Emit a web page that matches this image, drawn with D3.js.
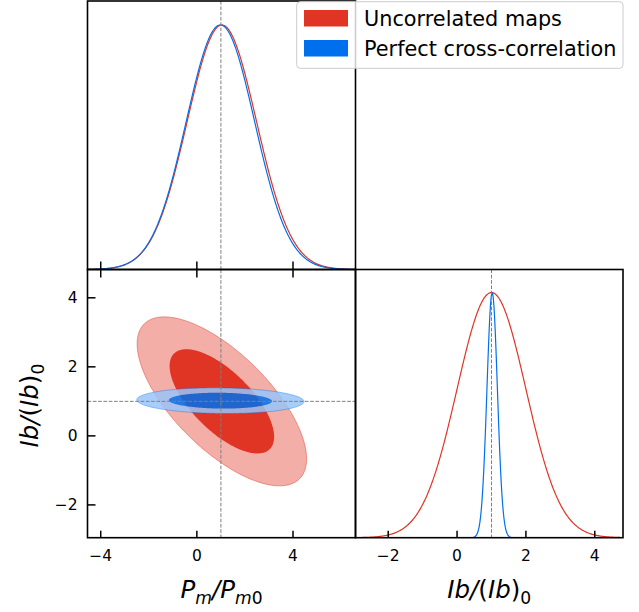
<!DOCTYPE html>
<html>
<head>
<meta charset="utf-8">
<script src="https://cdn.jsdelivr.net/npm/d3@7"></script>
<style>
  body { margin: 0; background: #fff; }
  svg text { font-family: "DejaVu Sans", sans-serif; fill: #000; }
</style>
</head>
<body>
<svg id="chart" width="639" height="612"></svg>
<script>
// ── Data ──
const seriesNames = ['Uncorrelated maps', 'Perfect cross-correlation'];
const seriesColors = ['#E03424', '#006FED'];
const seriesLight = ['#F3AEA7', '#99C5F8'];
const seriesAlpha = [1, 0.85];
const meanPm = [1.04, 0.98];
const meanIb = [1.0, 1.02];
const sigmaPm = [1.44, 1.42];
const sigmaIb = [1.0, 0.152];
const corrPmIb = [-0.68, -0.07];
const contourLevels = [0.95, 0.68];   // outer, inner
const fiducial = { pm: 1, ib: 1 };
const pmDomain = [-4.55, 6.6];
const ibDomain = [-2.95, 4.82];
const pmTicks = [-4, 0, 4];
const ibTicks = [-2, 0, 2, 4];

// ── Layout ──
const L = { x0: 87.5, x1: 355.5, x2: 623, y0: 1, y1: 269.5, y2: 537.7 };
const svg = d3.select('#chart');

const xPm = d3.scaleLinear().domain(pmDomain).range([L.x0, L.x1]);
const yIb = d3.scaleLinear().domain(ibDomain).range([L.y2, L.y1]);
const xIb = d3.scaleLinear().domain(ibDomain).range([L.x1, L.x2]);
const yTop = d3.scaleLinear().domain([0, 1.098]).range([L.y1, L.y0]);
const yRight = d3.scaleLinear().domain([0, 1.094]).range([L.y2, L.y1]);

const fmt = d => (d < 0 ? '\u2212' + Math.abs(d) : '' + d);

// clip paths
const defs = svg.append('defs');
function clip(id, x, y, w, h) {
  defs.append('clipPath').attr('id', id).append('rect')
    .attr('x', x).attr('y', y).attr('width', w).attr('height', h);
  return `url(#${id})`;
}
const clipTL = clip('c-tl', L.x0, L.y0, L.x1 - L.x0, L.y1 - L.y0);
const clipBL = clip('c-bl', L.x0, L.y1, L.x1 - L.x0, L.y2 - L.y1);
const clipBR = clip('c-br', L.x1, L.y1, L.x2 - L.x1, L.y2 - L.y1);

// ── Helpers ──
function gaussCurve(mu, sd, domain) {
  return d3.range(0, 401).map(i => {
    const x = domain[0] + (domain[1] - domain[0]) * i / 400;
    const z = (x - mu) / sd;
    return [x, Math.exp(-0.5 * z * z)];
  });
}

function ellipse(i, p) {
  const k = Math.sqrt(-2 * Math.log(1 - p));
  const r = corrPmIb[i];
  return d3.range(0, 240).map(j => {
    const t = 2 * Math.PI * j / 240;
    return [
      meanPm[i] + sigmaPm[i] * k * Math.cos(t),
      meanIb[i] + sigmaIb[i] * k * (r * Math.cos(t) + Math.sqrt(1 - r * r) * Math.sin(t))
    ];
  });
}

function mathLabel(sel, parts, size) {
  const s = 0.24 * size;
  let down = false;
  parts.forEach(p => {
    const t = sel.append('tspan').text(p.t)
      .attr('font-style', p.it ? 'italic' : 'normal');
    if (p.sub) {
      t.attr('font-size', size * 0.7);
      if (!down) { t.attr('dy', s); down = true; }
    } else {
      t.attr('font-size', size);
      if (down) { t.attr('dy', -s); down = false; }
    }
  });
}

// ── Top-left: Pm marginal ──
const gTL = svg.append('g').attr('clip-path', clipTL);
seriesNames.forEach((name, i) => {
  gTL.append('path')
    .datum(gaussCurve(meanPm[i], sigmaPm[i], pmDomain))
    .attr('d', d3.line().x(d => xPm(d[0])).y(d => yTop(d[1])))
    .attr('fill', 'none')
    .attr('stroke', seriesColors[i])
    .attr('stroke-width', 1.2);
});
gTL.append('line')
  .attr('x1', xPm(fiducial.pm)).attr('x2', xPm(fiducial.pm))
  .attr('y1', L.y0).attr('y2', L.y1)
  .attr('stroke', '#808080').attr('stroke-width', 1).attr('stroke-dasharray', '3.7,1.6');

// ── Bottom-left: 2D contours ──
const gBL = svg.append('g').attr('clip-path', clipBL);
const ellLine = d3.line().x(d => xPm(d[0])).y(d => yIb(d[1])).curve(d3.curveLinearClosed);
seriesNames.forEach((name, i) => {
  const g = gBL.append('g').attr('opacity', seriesAlpha[i]);
  g.append('path')
    .attr('d', ellLine(ellipse(i, contourLevels[0])))
    .attr('fill', seriesLight[i]);
  g.append('path')
    .attr('d', ellLine(ellipse(i, contourLevels[1])))
    .attr('fill', seriesColors[i]);
  g.append('path')
    .attr('d', ellLine(ellipse(i, contourLevels[0])))
    .attr('fill', 'none')
    .attr('stroke', seriesColors[i])
    .attr('stroke-opacity', 0.45)
    .attr('stroke-width', 1);
});
gBL.append('line')
  .attr('x1', xPm(fiducial.pm)).attr('x2', xPm(fiducial.pm))
  .attr('y1', L.y1).attr('y2', L.y2)
  .attr('stroke', '#808080').attr('stroke-width', 1).attr('stroke-dasharray', '3.7,1.6');
gBL.append('line')
  .attr('x1', L.x0).attr('x2', L.x1)
  .attr('y1', yIb(fiducial.ib)).attr('y2', yIb(fiducial.ib))
  .attr('stroke', '#808080').attr('stroke-width', 1).attr('stroke-dasharray', '3.7,1.6');

// ── Bottom-right: Ib marginal ──
const gBR = svg.append('g').attr('clip-path', clipBR);
seriesNames.forEach((name, i) => {
  gBR.append('path')
    .datum(gaussCurve(meanIb[i], sigmaIb[i], ibDomain))
    .attr('d', d3.line().x(d => xIb(d[0])).y(d => yRight(d[1])))
    .attr('fill', 'none')
    .attr('stroke', seriesColors[i])
    .attr('stroke-width', 1.2);
});
gBR.append('line')
  .attr('x1', xIb(fiducial.ib)).attr('x2', xIb(fiducial.ib))
  .attr('y1', L.y1).attr('y2', L.y2)
  .attr('stroke', '#808080').attr('stroke-width', 1).attr('stroke-dasharray', '3.7,1.6');

// ── Ticks ──
const gTicks = svg.append('g').attr('stroke', '#000').attr('stroke-width', 1.5);
pmTicks.forEach(t => {
  const x = xPm(t);
  gTicks.append('line').attr('x1', x).attr('x2', x).attr('y1', L.y2).attr('y2', L.y2 - 7);
  gTicks.append('line').attr('x1', x).attr('x2', x).attr('y1', L.y1 - 8).attr('y2', L.y1 + 8);
});
ibTicks.forEach(t => {
  const y = yIb(t);
  gTicks.append('line').attr('x1', L.x0).attr('x2', L.x0 + 8).attr('y1', y).attr('y2', y);
  const x = xIb(t);
  gTicks.append('line').attr('x1', x).attr('x2', x).attr('y1', L.y2).attr('y2', L.y2 - 7);
});

// ── Frames ──
const frames = [
  [L.x0, L.y0, L.x1 - L.x0, L.y1 - L.y0],
  [L.x0, L.y1, L.x1 - L.x0, L.y2 - L.y1],
  [L.x1, L.y1, L.x2 - L.x1, L.y2 - L.y1]
];
svg.append('g').selectAll('rect').data(frames).enter().append('rect')
  .attr('x', d => d[0]).attr('y', d => d[1]).attr('width', d => d[2]).attr('height', d => d[3])
  .attr('fill', 'none').attr('stroke', '#000').attr('stroke-width', 1.6);

// ── Tick labels ──
const tickSize = 15.5;
svg.append('g').selectAll('text').data(pmTicks).enter().append('text')
  .attr('x', d => xPm(d)).attr('y', 560.5)
  .attr('text-anchor', 'middle').attr('font-size', tickSize)
  .text(fmt);
svg.append('g').selectAll('text').data(ibTicks).enter().append('text')
  .attr('x', d => xIb(d)).attr('y', 560.5)
  .attr('text-anchor', 'middle').attr('font-size', tickSize)
  .text(fmt);
svg.append('g').selectAll('text').data(ibTicks).enter().append('text')
  .attr('x', 77.5).attr('y', d => yIb(d)).attr('dy', '0.36em')
  .attr('text-anchor', 'end').attr('font-size', tickSize)
  .text(fmt);

// ── Axis labels ──
const labSize = 24.5;
mathLabel(svg.append('text').attr('x', (L.x0 + L.x1) / 2).attr('y', 598).attr('text-anchor', 'middle'),
  [{ t: 'P', it: true }, { t: 'm', it: true, sub: true }, { t: '/P', it: true },
   { t: 'm', it: true, sub: true }, { t: '0', sub: true }], labSize);
mathLabel(svg.append('text').attr('x', (L.x1 + L.x2) / 2).attr('y', 598).attr('text-anchor', 'middle'),
  [{ t: 'Ib/', it: true }, { t: '(' }, { t: 'Ib', it: true }, { t: ')' }, { t: '0', sub: true }], labSize);
mathLabel(svg.append('text')
    .attr('transform', `translate(38,${(L.y1 + L.y2) / 2 + 2}) rotate(-90)`)
    .attr('text-anchor', 'middle'),
  [{ t: 'Ib/', it: true }, { t: '(' }, { t: 'Ib', it: true }, { t: ')' }, { t: '0', sub: true }], labSize);

// ── Legend ──
const leg = svg.append('g');
leg.append('rect')
  .attr('x', 296.7).attr('y', 1.7).attr('width', 326.3).attr('height', 66.6).attr('rx', 3.5)
  .attr('fill', '#fff').attr('fill-opacity', 0.8)
  .attr('stroke', '#cccccc').attr('stroke-width', 1);
seriesNames.forEach((name, i) => {
  const y = 10 + i * 30;
  leg.append('rect')
    .attr('x', 304).attr('y', y).attr('width', 44).attr('height', 16.5)
    .attr('fill', seriesColors[i]);
  leg.append('text')
    .attr('x', 364).attr('y', y + 15.5)
    .attr('font-size', 20.8)
    .text(name);
});
</script>
</body>
</html>
